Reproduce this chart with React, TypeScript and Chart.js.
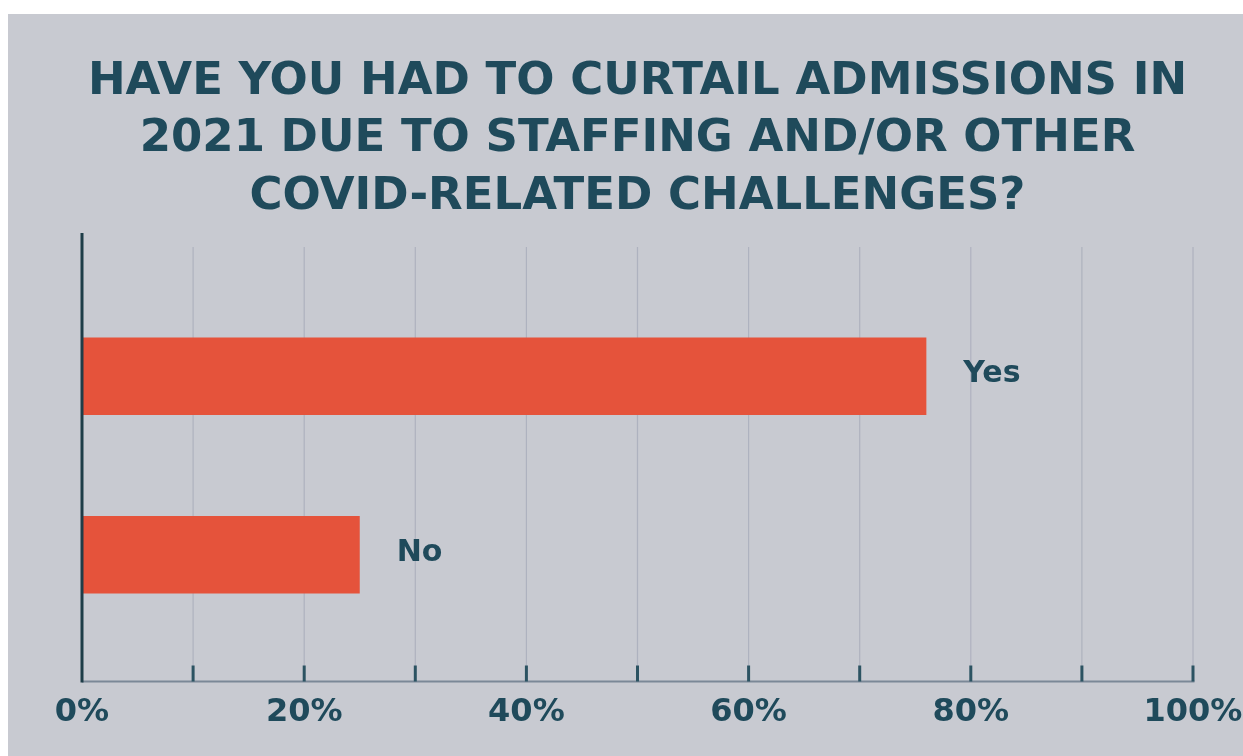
import React, { useEffect, useRef } from 'react';
import { Chart, registerables } from 'chart.js';

Chart.register(...registerables);

const titleLines = [
  'HAVE YOU HAD TO CURTAIL ADMISSIONS IN',
  '2021 DUE TO STAFFING AND/OR OTHER',
  'COVID-RELATED CHALLENGES?',
];
const categories = ['Yes', 'No'];
const values = [76, 25];
const axisMin = 0;
const axisMax = 100;
const gridStep = 10;
const labelStep = 20;

const TEAL = '#1f4a5b';
const BAR = '#e5533b';
const BG = '#c8cad1';
const FONT = "'DejaVu Sans', sans-serif";

const overlay = {
  id: 'overlay',
  beforeDatasetsDraw(chart: any) {
    const { ctx, chartArea, scales } = chart;
    const x = scales.x;
    const base = chartArea.bottom + 37.5;
    ctx.save();
    ctx.strokeStyle = 'rgba(115,124,150,0.3)';
    ctx.lineWidth = 1.2;
    for (let v = axisMin + gridStep; v <= axisMax; v += gridStep) {
      const px = x.getPixelForValue(v);
      ctx.beginPath();
      ctx.moveTo(px, chartArea.top - 40);
      ctx.lineTo(px, base);
      ctx.stroke();
    }
    ctx.restore();
  },
  afterDatasetsDraw(chart: any) {
    const { ctx, chartArea, scales } = chart;
    const x = scales.x;
    const base = chartArea.bottom + 37.5;
    const x0 = x.getPixelForValue(axisMin);
    const x1 = x.getPixelForValue(axisMax);
    ctx.save();
    // baseline
    ctx.strokeStyle = '#7b8897';
    ctx.lineWidth = 2;
    ctx.beginPath();
    ctx.moveTo(x0, base);
    ctx.lineTo(x1 + 1.5, base);
    ctx.stroke();
    // inward tick marks
    ctx.strokeStyle = '#2c5362';
    ctx.lineWidth = 3;
    for (let v = axisMin + gridStep; v <= axisMax; v += gridStep) {
      const px = x.getPixelForValue(v);
      ctx.beginPath();
      ctx.moveTo(px, base - 16);
      ctx.lineTo(px, base);
      ctx.stroke();
    }
    // vertical axis line
    ctx.strokeStyle = '#1e3d48';
    ctx.lineWidth = 3;
    ctx.beginPath();
    ctx.moveTo(x0, chartArea.top - 54);
    ctx.lineTo(x0, base + 1);
    ctx.stroke();
    // category labels beside bars
    const meta = chart.getDatasetMeta(0);
    ctx.fillStyle = TEAL;
    ctx.font = `bold 30px ${FONT}`;
    ctx.textAlign = 'left';
    ctx.textBaseline = 'middle';
    meta.data.forEach((bar: any, i: number) => {
      ctx.fillText(categories[i], bar.x + 37, bar.y - 2);
    });
    ctx.restore();
  },
};

export default function App() {
  const ref = useRef<HTMLCanvasElement | null>(null);

  useEffect(() => {
    if (!ref.current) return;
    const chart = new Chart(ref.current, {
      type: 'bar',
      data: {
        labels: categories,
        datasets: [
          {
            data: values,
            backgroundColor: BAR,
            borderWidth: 0,
            categoryPercentage: 0.433,
            barPercentage: 1,
          },
        ],
      },
      options: {
        indexAxis: 'y',
        responsive: false,
        maintainAspectRatio: false,
        animation: false,
        layout: { padding: { left: 74, right: 50, top: 0, bottom: 25 } },
        scales: {
          x: {
            type: 'linear',
            min: axisMin,
            max: axisMax,
            grid: { display: false, drawTicks: false, tickLength: 0 },
            border: { display: false },
            ticks: {
              stepSize: gridStep,
              autoSkip: false,
              maxRotation: 0,
              padding: 49,
              color: TEAL,
              font: { family: FONT, size: 32, weight: 'bold' },
              callback: (v: any) => (Number(v) % labelStep === 0 ? `${v}%` : ''),
            },
            afterFit: (scale: any) => {
              scale.height = 87;
              scale.paddingLeft = 0;
              scale.paddingRight = 0;
            },
          },
          y: {
            type: 'category',
            display: false,
            offset: true,
            grid: { display: false },
          },
        },
        plugins: {
          legend: { display: false },
          tooltip: { enabled: false },
          title: {
            display: true,
            text: titleLines,
            color: TEAL,
            font: { family: FONT, size: 45, weight: 'bold', lineHeight: 1.271 },
            padding: { top: 40, bottom: 61.4 },
          },
        },
      },
      plugins: [overlay],
    });
    return () => chart.destroy();
  }, []);

  return (
    <div
      style={{
        position: 'fixed',
        left: 8,
        top: 14,
        width: 1235,
        height: 742,
        background: BG,
      }}
    >
      <canvas ref={ref} width={1235} height={742} style={{ display: 'block' }} />
    </div>
  );
}
